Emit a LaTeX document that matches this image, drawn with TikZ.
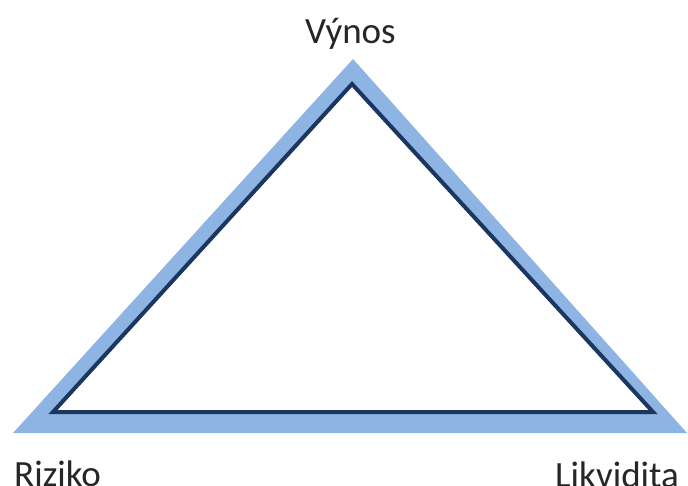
\documentclass[tikz,border=0pt]{standalone}
\usepackage{fontspec}
\setmainfont{Carlito}
\definecolor{bandblue}{HTML}{8EB4E3}
\definecolor{navy}{HTML}{1B365F}
\begin{document}
\begin{tikzpicture}[x=1pt,y=-1pt,
  lbl/.style={inner sep=0pt,anchor=base west,font=\fontsize{37}{40}\selectfont,text=black!85}]
\useasboundingbox (0,0) rectangle (688,486);
\fill[white] (0,0) rectangle (688,486);
% outer band
\fill[bandblue] (13,433) -- (353,59) -- (687,433) -- cycle;
% inner triangle
\draw[navy,line width=4pt,fill=white,line join=miter] (53,412) -- (352,84) -- (653,412) -- cycle;
\node[lbl] (vynos) at (305,44) {Výnos};
\node[lbl] (riziko) at (14,486) {Riziko};
\node[lbl] (likvidita) at (555,487) {Likvidita};
\end{tikzpicture}
\end{document}
